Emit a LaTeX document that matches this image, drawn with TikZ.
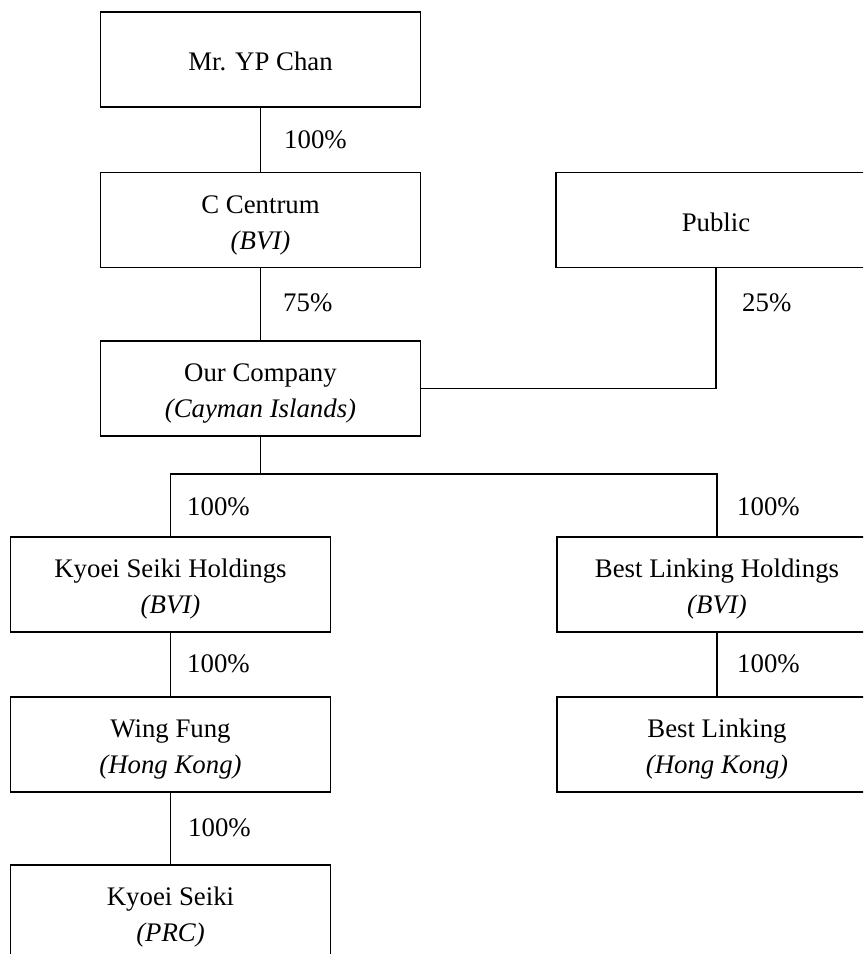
\documentclass[tikz,border=0pt]{standalone}
\usepackage{fontspec}
\setmainfont{Liberation Serif}
\newcommand{\twoline}[2]{\begin{tabular}[t]{@{}c@{}}#1\\#2\end{tabular}}
\begin{document}
\begin{tikzpicture}[x=1pt,y=-1pt,
  entity/.style={draw, line width=1.2pt, minimum width=320pt, inner sep=0pt, text height=40.5pt, text depth=54.5pt, font=\fontsize{26.8}{36}\selectfont},
  entityone/.style={entity, text height=58.9pt, text depth=36.1pt},
  pct/.style={anchor=west, inner sep=0pt, font=\fontsize{26.8}{30}\selectfont},
  link/.style={line width=1.2pt}]
\useasboundingbox (0,0) rectangle (863,954);
\clip (0,0) rectangle (863,954);
\node[entityone] (yp) at (260.5,59.5) {Mr. YP Chan};
\node[entity] (cc) at (260.5,220) {\twoline{C Centrum}{\textit{(BVI)}}};
\node[entityone] (pub) at (716,220) {Public};
\node[entity] (our) at (260.5,388.5) {\twoline{Our Company}{\textit{(Cayman Islands)}}};
\node[entity] (ksh) at (170.5,584.5) {\twoline{Kyoei Seiki Holdings}{\textit{(BVI)}}};
\node[entity] (blh) at (717,584.5) {\twoline{Best Linking Holdings}{\textit{(BVI)}}};
\node[entity] (wf) at (170.5,744.5) {\twoline{Wing Fung}{\textit{(Hong Kong)}}};
\node[entity] (bl) at (717,744.5) {\twoline{Best Linking}{\textit{(Hong Kong)}}};
\node[entity] (ks) at (170.5,912.5) {\twoline{Kyoei Seiki}{\textit{(PRC)}}};
\coordinate (bar) at (260.5,474);
\draw[link] (yp) -- (cc);
\draw[link] (cc) -- (our);
\draw[link] (pub.south) |- (our.east);
\draw[link] (our.south) -- (bar);
\draw[link] (ksh.north) |- (bar) -| (blh.north);
\draw[link] (blh) -- (bl);
\draw[link] (ksh) -- (wf);
\draw[link] (wf) -- (ks);
\node[pct] (p1) at (284,140) {100\%};
\node[pct] (p2) at (283,303) {75\%};
\node[pct] (p3) at (742,303) {25\%};
\node[pct] (p4) at (187,507) {100\%};
\node[pct] (p5) at (737,507) {100\%};
\node[pct] (p6) at (187,664) {100\%};
\node[pct] (p7) at (737,664) {100\%};
\node[pct] (p8) at (188,828) {100\%};
\end{tikzpicture}
\end{document}
